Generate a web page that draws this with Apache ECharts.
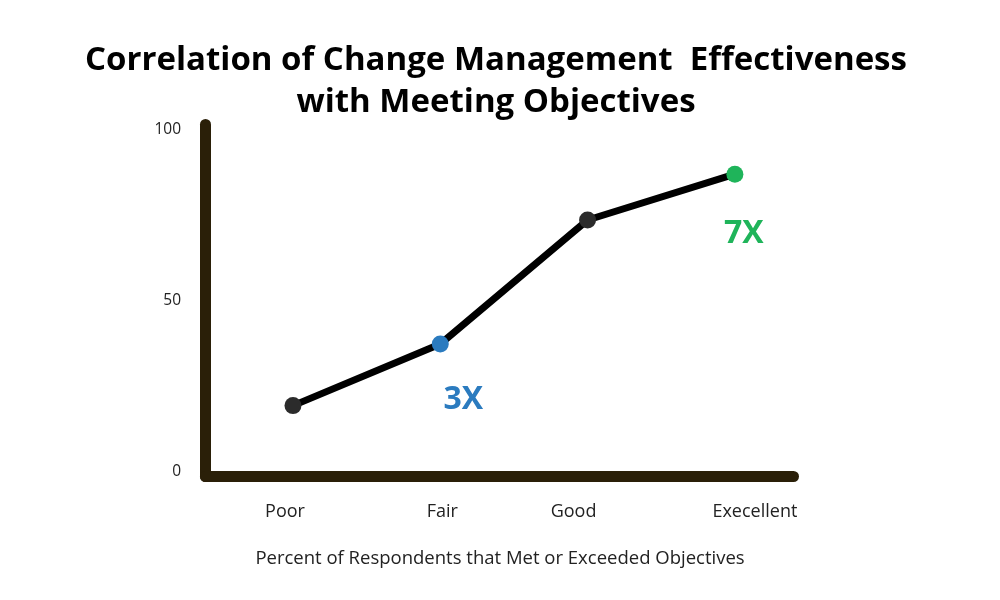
<!DOCTYPE html>
<html>
<head>
<meta charset="utf-8">
<script src="https://cdn.jsdelivr.net/npm/echarts@6/dist/echarts.min.js"></script>
<style>
html,body{margin:0;padding:0;background:#fff;}
#chart{width:1000px;height:600px;}
</style>
</head>
<body>
<div id="chart"></div>
<script>
const categories = ['Poor', 'Fair', 'Good', 'Execellent'];
const values = [19.4, 37.4, 73.6, 87.0];
const annotations = ['', '3X', '', '7X'];
const yTickLabels = [0, 50, 100];
const titleLines = ['Correlation of Change Management  Effectiveness', 'with Meeting Objectives'];
const xAxisTitle = 'Percent of Respondents that Met or Exceeded Objectives';

const markerColors = ['#2b2b2b', '#2b7bbf', '#2b2b2b', '#1fb45a'];
const labelOffsets = [[0, 0], [23, 56], [0, 0], [9, 60]];
// horizontal nudge (px) of each category label, as laid out in the design
const catLabelShift = [-8, 2, -14, 20];

const chart = echarts.init(document.getElementById('chart'));
const axisColor = '#2a1f08';

const rich = {};
catLabelShift.forEach((s, i) => {
  rich['c' + i] = {
    fontFamily: 'Open Sans',
    fontSize: 18,
    color: '#222',
    padding: s >= 0 ? [0, 0, 0, 2 * s] : [0, -2 * s, 0, 0]
  };
});

chart.setOption({
  backgroundColor: '#ffffff',
  animation: false,
  title: {
    text: titleLines.join('\n'),
    left: 491,
    top: 35,
    textAlign: 'center',
    textStyle: {
      fontFamily: 'Open Sans',
      fontWeight: 'bold',
      fontSize: 33,
      lineHeight: 42,
      color: '#000'
    }
  },
  graphic: [{
    type: 'text',
    x: 500,
    y: 559,
    style: {
      text: xAxisTitle,
      fontFamily: 'Open Sans',
      fontSize: 18.5,
      fill: '#222',
      textAlign: 'center',
      textVerticalAlign: 'middle'
    }
  }],
  grid: {
    left: 205.5,
    right: 206.5,
    top: 124.5,
    bottom: 123.5,
    outerBoundsMode: 'none'
  },
  xAxis: {
    type: 'value',
    min: -0.594,
    max: 3.398,
    splitLine: { show: false },
    axisTick: { show: false },
    axisLine: { show: true, onZero: false, lineStyle: { color: axisColor, width: 11, cap: 'round' } },
    axisLabel: {
      customValues: categories.map((c, i) => i),
      formatter: v => {
        const i = Math.round(v);
        return categories[i] ? '{c' + i + '|' + categories[i] + '}' : '';
      },
      rich: rich,
      margin: 26,
      fontFamily: 'Open Sans',
      fontSize: 18,
      color: '#222'
    }
  },
  yAxis: {
    type: 'value',
    min: -1.3,
    max: 101.5,
    splitLine: { show: false },
    axisTick: { show: false },
    axisLine: { show: true, onZero: false, lineStyle: { color: axisColor, width: 11, cap: 'round' } },
    axisLabel: {
      customValues: yTickLabels,
      margin: 24.5,
      padding: [4, 0, 0, 0],
      fontFamily: 'Open Sans',
      fontSize: 15.5,
      color: '#222'
    }
  },
  series: [{
    type: 'line',
    data: values.map((v, i) => ({
      value: [i, v],
      itemStyle: { color: markerColors[i] },
      label: {
        show: annotations[i] !== '',
        formatter: annotations[i],
        position: 'inside',
        offset: labelOffsets[i],
        color: markerColors[i],
        fontFamily: 'Open Sans',
        fontWeight: 'bold',
        fontSize: 32
      }
    })),
    symbol: 'circle',
    symbolSize: 17,
    lineStyle: { color: '#000', width: 7 },
    z: 3
  }]
});
</script>
</body>
</html>
